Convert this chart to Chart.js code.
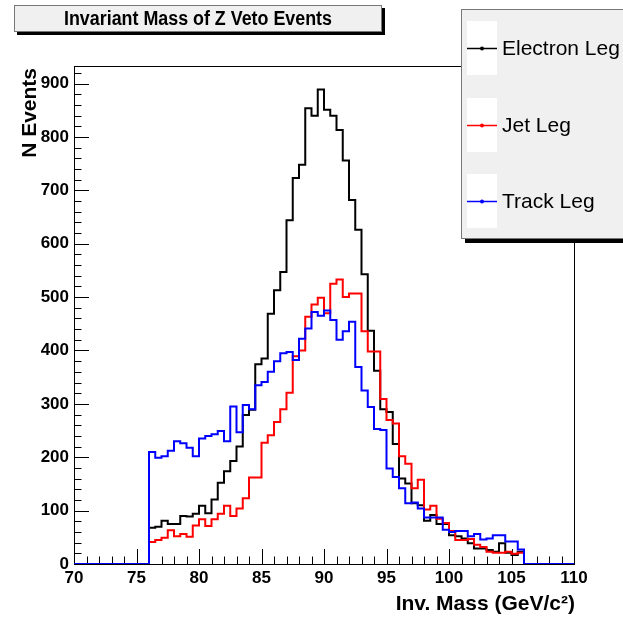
<!DOCTYPE html>
<html>
<head>
<meta charset="utf-8">
<title>Invariant Mass of Z Veto Events</title>
<script src="https://cdn.jsdelivr.net/npm/chart.js@4.4.1/dist/chart.umd.min.js"></script>
<style>
  html, body { margin: 0; padding: 0; background: #fff; }
  #wrap { width: 623px; height: 619px; }
</style>
</head>
<body>
<div id="wrap"><canvas id="c" width="623" height="619"></canvas></div>
<script>
// histogram range 70-110, filled bins are 0.5 GeV wide from 76 to 106
var HIST_MIN = 70, HIST_MAX = 110;
var BIN_LO = 76, BIN_W = 0.5;

var electronLeg = [68, 70, 81, 75, 75, 90, 89, 94, 109, 95,
  121, 152, 174, 193, 220, 279, 289, 374, 385, 469,
  513, 547, 644, 723, 748, 854, 840, 889, 851, 840,
  813, 756, 682, 626, 543, 437, 362, 290, 285, 225,
  160, 151, 114, 110, 81, 92, 75, 75, 54, 52,
  48, 39, 29, 29, 26, 23, 39, 21, 17, 23];

var jetLeg = [41, 45, 49, 63, 52, 56, 51, 72, 84, 71,
  84, 94, 109, 90, 104, 123, 162, 162, 227, 241,
  266, 290, 321, 389, 400, 463, 486, 499, 470, 525,
  533, 500, 507, 507, 436, 398, 398, 309, 270, 263,
  202, 188, 142, 158, 102, 109, 85, 77, 62, 45,
  45, 47, 36, 32, 23, 21, 21, 23, 19, 21];

var trackLeg = [210, 199, 202, 212, 230, 226, 218, 202, 235, 240,
  243, 249, 230, 295, 247, 298, 290, 335, 341, 360,
  380, 395, 397, 382, 422, 441, 472, 465, 475, 457,
  420, 436, 454, 369, 325, 294, 253, 251, 179, 163,
  142, 114, 115, 104, 87, 87, 87, 64, 60, 62,
  62, 52, 56, 46, 48, 54, 54, 42, 42, 27];

var seriesNames = ['Electron Leg', 'Jet Leg', 'Track Leg'];
var seriesColors = ['#000000', '#ff0000', '#0000ff'];
var xTickValues = [70, 75, 80, 85, 90, 95, 100, 105, 110];
var yTickValues = [0, 100, 200, 300, 400, 500, 600, 700, 800, 900];
var Y_MAX = 933;

var FONT = "'Liberation Sans', Arial, Helvetica, sans-serif";

// turn bin contents into step points (zero outside the filled bins)
function toSteps(vals) {
  var pts = [{x: HIST_MIN, y: 0}];
  for (var i = 0; i < vals.length; i++) {
    pts.push({x: BIN_LO + i * BIN_W, y: vals[i]});
  }
  pts.push({x: BIN_LO + vals.length * BIN_W, y: 0});
  pts.push({x: HIST_MAX, y: 0});
  return pts;
}

function boxWithShadow(ctx, x, y, w, h, sh) {
  ctx.fillStyle = '#000';
  ctx.fillRect(x + sh, y + sh, w, h);
  ctx.fillStyle = '#f0f0f0';
  ctx.fillRect(x, y, w, h);
  ctx.strokeStyle = '#777';
  ctx.lineWidth = 1;
  ctx.strokeRect(x + 0.5, y + 0.5, w - 1, h - 1);
}

var rootStyle = {
  id: 'rootStyle',
  beforeDraw: function (chart) {
    var ctx = chart.ctx;
    ctx.save();
    ctx.fillStyle = '#fff';
    ctx.fillRect(0, 0, chart.width, chart.height);
    ctx.restore();
  },
  beforeDatasetsDraw: function (chart) {
    var ctx = chart.ctx, a = chart.chartArea;
    var xs = chart.scales.x, ys = chart.scales.y;
    ctx.save();
    ctx.strokeStyle = '#000';
    ctx.lineWidth = 1;
    ctx.strokeRect(Math.round(a.left) + 0.5, Math.round(a.top) + 0.5,
      Math.round(a.right - a.left), Math.round(a.bottom - a.top));
    // inward ticks, ROOT style
    ctx.beginPath();
    for (var v = HIST_MIN; v <= HIST_MAX; v += 1) {
      var px = Math.round(xs.getPixelForValue(v)) + 0.5;
      var len = (v % 5 === 0) ? 15 : 7.5;
      ctx.moveTo(px, a.bottom);
      ctx.lineTo(px, a.bottom - len);
    }
    for (var w = 0; w <= Y_MAX; w += 20) {
      var py = Math.round(ys.getPixelForValue(w)) + 0.5;
      var l = (w % 100 === 0) ? 15 : 7.5;
      ctx.moveTo(a.left, py);
      ctx.lineTo(a.left + l, py);
    }
    ctx.stroke();
    ctx.restore();
  },
  afterDraw: function (chart) {
    var ctx = chart.ctx;
    ctx.save();

    // title pave
    boxWithShadow(ctx, 14, 5, 368, 27, 3);
    ctx.fillStyle = '#000';
    ctx.font = 'bold 20px ' + FONT;
    ctx.textAlign = 'center';
    ctx.textBaseline = 'middle';
    ctx.fillText('Invariant Mass of Z Veto Events', 198, 19, 268);

    // legend pave (runs off the right edge of the canvas)
    boxWithShadow(ctx, 461, 9, 220, 230, 4);
    var ds = chart.data.datasets;
    var rows = [48, 125, 201];
    for (var i = 0; i < ds.length; i++) {
      var cy = rows[i];
      ctx.fillStyle = '#fff';
      ctx.fillRect(467, cy - 27, 30, 54);
      ctx.strokeStyle = ds[i].borderColor;
      ctx.lineWidth = 1.5;
      ctx.beginPath();
      ctx.moveTo(467, cy + 0.5);
      ctx.lineTo(497, cy + 0.5);
      ctx.stroke();
      ctx.fillStyle = ds[i].borderColor;
      ctx.beginPath();
      ctx.arc(482, cy + 0.5, 2, 0, Math.PI * 2);
      ctx.fill();
      ctx.fillStyle = '#000';
      ctx.font = '21px ' + FONT;
      ctx.textAlign = 'left';
      ctx.textBaseline = 'middle';
      ctx.fillText(ds[i].label, 502, cy + 1);
    }

    // axis titles
    ctx.fillStyle = '#000';
    ctx.font = 'bold 21px ' + FONT;
    ctx.textAlign = 'right';
    ctx.textBaseline = 'middle';
    ctx.fillText('Inv. Mass (GeV/c\u00b2)', 575, 604, 206);
    ctx.translate(30, 68);
    ctx.rotate(-Math.PI / 2);
    ctx.fillText('N Events', 0, 0, 96);
    ctx.restore();
  }
};

var datasets = [electronLeg, jetLeg, trackLeg].map(function (vals, i) {
  return {
    label: seriesNames[i],
    data: toSteps(vals),
    borderColor: seriesColors[i],
    backgroundColor: seriesColors[i],
    borderWidth: 2,
    stepped: 'before',
    fill: false,
    pointRadius: 0,
    order: 2 - i
  };
});

var tickFont = {family: FONT, size: 17, weight: 'bold'};

new Chart(document.getElementById('c'), {
  type: 'line',
  data: {datasets: datasets},
  options: {
    responsive: false,
    animation: false,
    events: [],
    layout: {padding: {left: 0, right: 49, top: 66, bottom: 0}},
    plugins: {legend: {display: false}, tooltip: {enabled: false}, title: {display: false}},
    scales: {
      x: {
        type: 'linear',
        min: HIST_MIN,
        max: HIST_MAX,
        afterFit: function (s) { s.height = 55; },
        afterBuildTicks: function (s) { s.ticks = xTickValues.map(function (v) { return {value: v}; }); },
        grid: {display: false, drawTicks: false},
        border: {display: false},
        ticks: {color: '#000', font: tickFont, padding: 4, maxRotation: 0, autoSkip: false}
      },
      y: {
        type: 'linear',
        min: 0,
        max: Y_MAX,
        afterFit: function (s) { s.width = 74; },
        afterBuildTicks: function (s) { s.ticks = yTickValues.map(function (v) { return {value: v}; }); },
        grid: {display: false, drawTicks: false},
        border: {display: false},
        ticks: {color: '#000', font: tickFont, padding: 5, autoSkip: false}
      }
    }
  },
  plugins: [rootStyle]
});
</script>
</body>
</html>
